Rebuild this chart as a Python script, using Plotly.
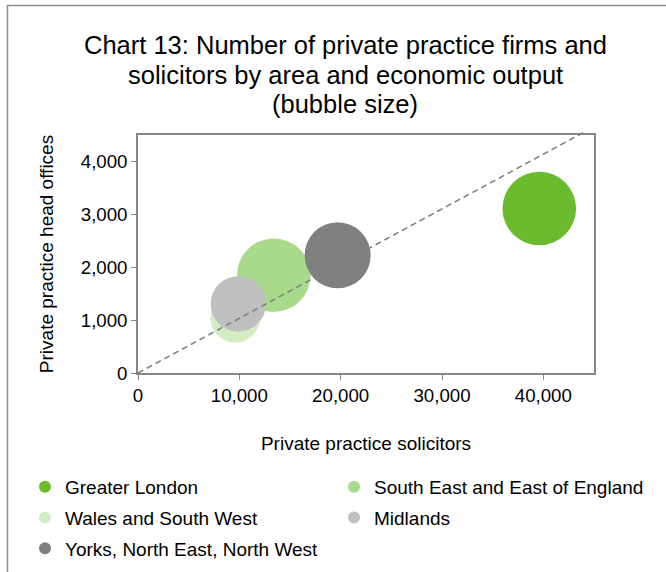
import plotly.graph_objects as go

# Regional figures: solicitors, head offices and economic output (bubble size)
regions = [
    "Greater London",
    "South East and East of England",
    "Wales and South West",
    "Midlands",
    "Yorks, North East, North West",
]
solicitors = [39600, 13400, 9600, 9900, 19700]
head_offices = [3110, 1850, 1045, 1305, 2225]
economic_output = [310, 309, 141, 176, 250]
colors = ["#6ABB2D", "#A9D98A", "#D3ECC4", "#BFBFBF", "#808080"]
legend_column = ["legend", "legend2", "legend", "legend2", "legend"]

title_lines = [
    "Chart 13: Number of private practice firms and",
    "solicitors by area and economic output",
    "(bubble size)",
]

x_ticks = [0, 10000, 20000, 30000, 40000]
y_ticks = [0, 1000, 2000, 3000, 4000]
x_max, y_max = 45000, 4500
ratio_line_end = 44300  # solicitors value where the average-ratio line stops

FONT = "Liberation Sans, Arial, sans-serif"
GREY = "#868686"

# plot-area geometry in pixels
W, H = 666, 572
L, R, T, B = 138, 72, 135, 199
pw, ph = W - L - R, H - T - B

max_diam = 73.6
sizeref = 2.0 * max(economic_output) / max_diam ** 2

fig = go.Figure()
for i, (name, xs, ys, s, c, lg) in enumerate(
        zip(regions, solicitors, head_offices, economic_output, colors, legend_column)):
    fig.add_trace(go.Scatter(
        x=[xs], y=[ys], mode="markers", name=name,
        legend=lg, legendgroup=f"g{i}",
        marker=dict(size=[s], sizemode="area", sizeref=sizeref, color=c,
                    opacity=1, line=dict(width=0)),
        cliponaxis=False,
    ))

# national average: head offices per solicitor
avg_ratio = sum(head_offices) / sum(solicitors)
fig.add_shape(
    type="line", xref="paper", yref="paper", layer="above",
    x0=0, y0=0,
    x1=ratio_line_end / x_max, y1=ratio_line_end * avg_ratio / y_max,
    line=dict(color="#808080", width=1.6, dash="6px,4px"),
)


def px_x(p):
    return (p - L) / pw


def px_y(p):
    return (H - B - p) / ph


# outer chart frame
fig.add_shape(
    type="rect", xref="paper", yref="paper", layer="below",
    x0=px_x(7.5), x1=px_x(700), y0=px_y(5.5), y1=px_y(620),
    line=dict(color="#8C8C8C", width=1.5), fillcolor="rgba(0,0,0,0)",
)

# chart title, one line per annotation for tighter line spacing
for k, line in enumerate(title_lines):
    fig.add_annotation(
        text=line, xref="paper", yref="paper",
        x=px_x(345), y=px_y(45 + 29.5 * k),
        xanchor="center", yanchor="middle", showarrow=False,
        font=dict(family=FONT, size=25.5, color="#000"),
    )

axis_common = dict(
    showgrid=False, zeroline=False, showline=True, mirror=True,
    linecolor=GREY, linewidth=1.5, ticks="outside", ticklen=5,
    tickcolor=GREY, tickwidth=1.2, tickformat=",d",
    tickfont=dict(family=FONT, size=18.7, color="#000"),
)

legend_common = dict(
    orientation="v", xanchor="left", yanchor="top",
    font=dict(family=FONT, size=19, color="#000"),
    itemsizing="constant", bgcolor="rgba(0,0,0,0)",
    traceorder="grouped", tracegroupgap=3,
)

fig.update_layout(
    width=W, height=H,
    margin=dict(l=L, r=R, t=T, b=B, autoexpand=False),
    paper_bgcolor="white", plot_bgcolor="white",
    font=dict(family=FONT, color="#000"),
    xaxis=dict(
        range=[0, x_max], tickvals=x_ticks, **axis_common,
        title=dict(text="Private practice solicitors", standoff=32,
                   font=dict(family=FONT, size=19, color="#000")),
    ),
    yaxis=dict(
        range=[0, y_max], tickvals=y_ticks, **axis_common,
        title=dict(text="Private practice head offices", standoff=22,
                   font=dict(family=FONT, size=19, color="#000")),
    ),
    showlegend=True,
    legend=dict(x=px_x(25), y=px_y(468), **legend_common),
    legend2=dict(x=px_x(334), y=px_y(468), **legend_common),
)

fig.write_html("out.html")
